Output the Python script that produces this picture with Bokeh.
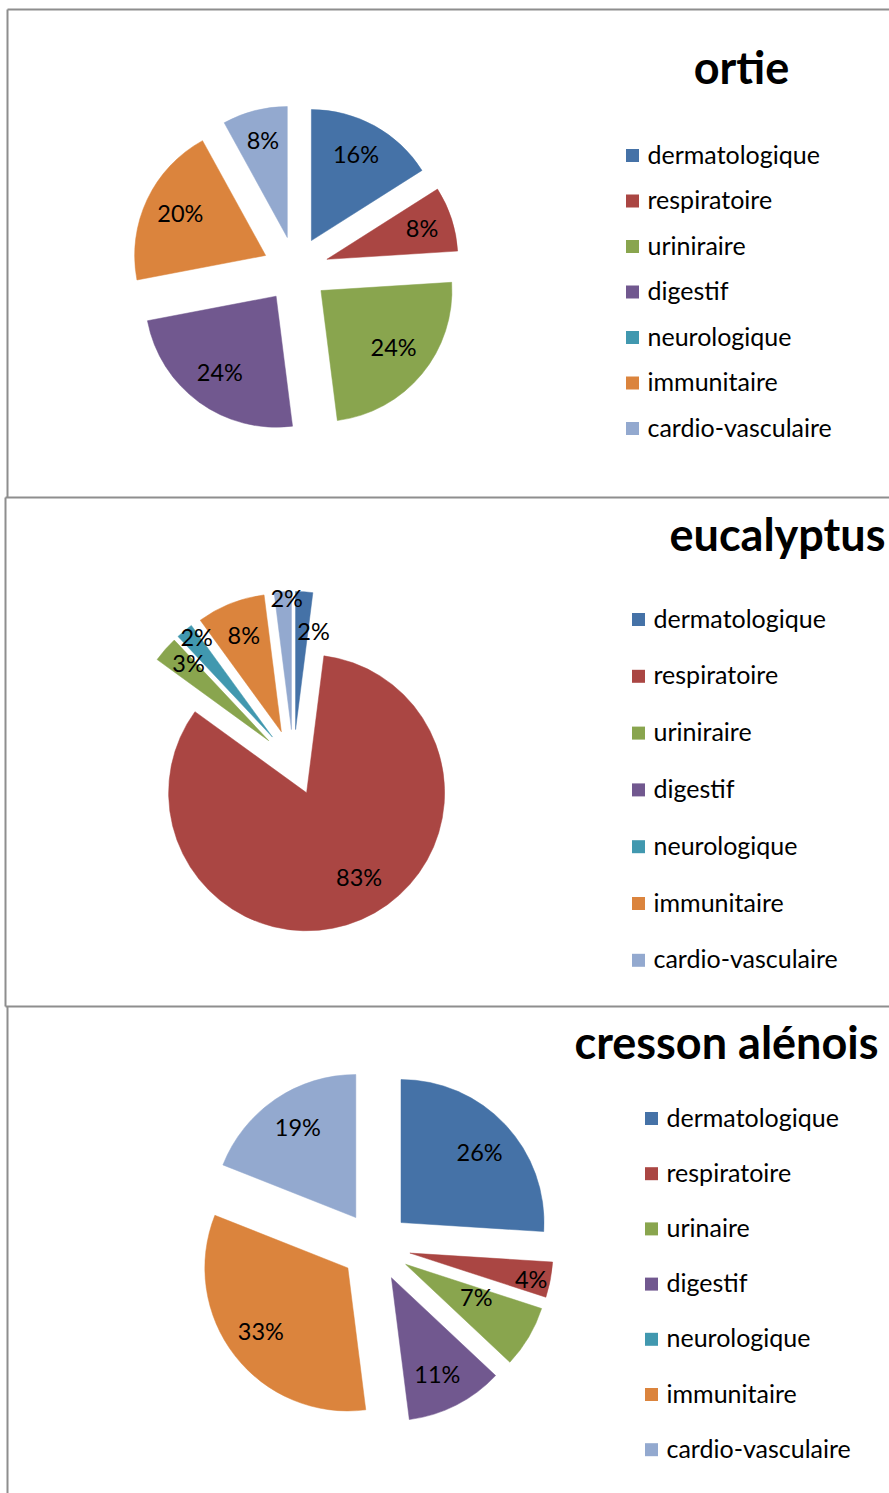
import math
from bokeh.plotting import figure
from bokeh.models import Range1d, ColumnDataSource
from bokeh.core.properties import value
from bokeh.embed import file_html
from bokeh.resources import INLINE

# ---------------- data ----------------
categories_1 = ["dermatologique", "respiratoire", "uriniraire", "digestif",
                "neurologique", "immunitaire", "cardio-vasculaire"]
categories_3 = ["dermatologique", "respiratoire", "urinaire", "digestif",
                "neurologique", "immunitaire", "cardio-vasculaire"]
ortie_values = [16, 8, 24, 24, 0, 20, 8]
eucalyptus_values = [2, 83, 3, 0, 2, 8, 2]
cresson_values = [26, 4, 7, 11, 0, 33, 19]
titles = ["ortie", "eucalyptus", "cresson alénois"]
colors = ["#4572A7", "#AA4643", "#89A54E", "#71588F", "#4198AF", "#DB843D", "#93A9CF"]

# ---------------- layout ----------------
W, H = 889, 1493
FONT = "Lato"


def X(px):  # page x -> data x
    return px


def Y(py):  # page y -> data y
    return H - py


p = figure(width=W, height=H, output_backend="svg", toolbar_location=None,
           x_range=Range1d(0, W), y_range=Range1d(0, H), min_border=0)
p.axis.visible = False
p.grid.visible = False
p.outline_line_color = None
p.background_fill_color = "white"
p.border_fill_color = "white"

# panel borders
bx0 = [X(7), X(7), X(5), X(5), X(5), X(7)]
by0 = [Y(9), Y(9), Y(497), Y(497), Y(1006), Y(1006)]
bx1 = [X(889), X(7), X(889), X(5), X(889), X(7)]
by1 = [Y(9), Y(497), Y(497), Y(1006), Y(1006), Y(1493)]
p.segment(x0=bx0, y0=by0, x1=bx1, y1=by1, line_color="#8e8e8e", line_width=2)

charts = [
    dict(values=ortie_values, cats=categories_1, title=titles[0],
         center=(295, 269), r=131, d=33,
         lab_frac=[0.73, 0.76, 0.71, 0.73, 0.73, 0.72, 0.75],
         lab_rot=[-1, 1, -1, 0, 0, 0, 0],
         title_pos=(741, 66),
         leg=(632, 647, 155, 45.5)),
    dict(values=eucalyptus_values, cats=categories_1, title=titles[1],
         center=(293, 762), r=138, d=33,
         lab_frac=[0.71, 0.73, 0.80, 0.73, 0.90, 0.74, 0.94],
         lab_rot=[7, -8, 2, 0, 2, 0, 1.5],
         title_pos=(777, 533),
         leg=(638, 653, 619, 56.8)),
    dict(values=cresson_values, cats=categories_3, title=titles[2],
         center=(375, 1246), r=143, d=35,
         lab_frac=[0.73, 0.87, 0.55, 0.76, 0.75, 0.76, 0.74],
         lab_rot=[2, 2, -4.6, 2, 0, 1, 1],
         title_pos=(726, 1041),
         leg=(651, 666, 1118, 55.2)),
]

for ch in charts:
    vals = ch["values"]
    total = float(sum(vals))
    cx, cy = X(ch["center"][0]), Y(ch["center"][1])
    r, d = ch["r"], ch["d"]
    wx, wy, sa, ea, wc = [], [], [], [], []
    lx, ly, lt = [], [], []
    cum = 0.0
    for i, v in enumerate(vals):
        t1 = cum / total * 360.0
        cum += v
        t2 = cum / total * 360.0
        if v <= 0:
            continue
        m = math.radians((t1 + t2) / 2.0)
        ox = cx + d * math.sin(m)
        oy = cy + d * math.cos(m)
        wx.append(ox)
        wy.append(oy)
        sa.append(math.radians(90.0 - t2))
        ea.append(math.radians(90.0 - t1))
        wc.append(colors[i])
        ml = m + math.radians(ch["lab_rot"][i])
        lr = ch["lab_frac"][i] * r
        lx.append(ox + lr * math.sin(ml))
        ly.append(oy + lr * math.cos(ml))
        lt.append("%d%%" % round(v / total * 100))
    src = ColumnDataSource(dict(x=wx, y=wy, sa=sa, ea=ea, c=wc))
    p.wedge(x="x", y="y", radius=r, start_angle="sa", end_angle="ea",
            fill_color="c", line_color="c", line_width=0.5, source=src)
    p.text(x=lx, y=ly, text=lt, text_align="center", text_baseline="middle",
           y_offset=-2, text_font=value(FONT), text_font_size="23.5px",
           text_color="#000000")

    # title
    p.text(x=[X(ch["title_pos"][0])], y=[Y(ch["title_pos"][1])], text=[ch["title"]],
           text_align="center", text_baseline="middle", text_font=value(FONT),
           text_font_style="bold", text_font_size="45px", text_color="#000000")

    # legend
    sqx, tx, y0, step = ch["leg"]
    ys = [Y(y0 + k * step) for k in range(len(ch["cats"]))]
    p.rect(x=[X(sqx)] * len(ys), y=ys, width=13, height=13,
           fill_color=colors, line_color=None)
    p.text(x=[X(tx)] * len(ys), y=ys, text=ch["cats"], text_align="left",
           text_baseline="middle", y_offset=-2, text_font=value(FONT),
           text_font_size="25px", text_color="#000000")

open("out.html", "w").write(file_html(p, INLINE))
